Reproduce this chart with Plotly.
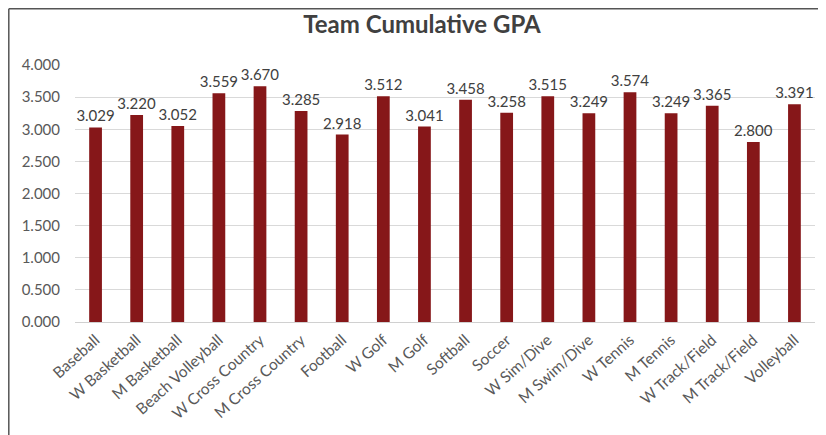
import plotly.graph_objects as go

teams = ["Baseball", "W Basketball", "M Basketball", "Beach Volleyball", "W Cross Country",
         "M Cross Country", "Football", "W Golf", "M Golf", "Softball", "Soccer",
         "W Sim/Dive", "M Swim/Dive", "W Tennis", "M Tennis", "W Track/Field",
         "M Track/Field", "Volleyball"]
gpa = [3.029, 3.220, 3.052, 3.559, 3.670, 3.285, 2.918, 3.512, 3.041, 3.458, 3.258,
       3.515, 3.249, 3.574, 3.249, 3.365, 2.800, 3.391]
ytick_vals = [0.0, 0.5, 1.0, 1.5, 2.0, 2.5, 3.0, 3.5, 4.0]

W, H = 818, 427
L, R, T, B = 67, 11, 57, 113
pw, ph = W - L - R, H - T - B

fig = go.Figure(go.Bar(
    x=teams, y=gpa,
    marker=dict(color="#861719", line=dict(width=0)),
    text=[f"{v:.3f}" for v in gpa],
    textposition="outside",
    constraintext="none",
    textfont=dict(family="Lato", size=15, color="#404040"),
    cliponaxis=False,
    width=0.31,
))

bx = (0.8 - L) / pw
ty = 1 + (T - 0.8) / ph
fig.add_shape(type="line", xref="paper", yref="paper", x0=bx, x1=bx, y0=-2, y1=ty,
              line=dict(color="#555555", width=1.5))
fig.add_shape(type="line", xref="paper", yref="paper", x0=bx, x1=1.2, y0=ty, y1=ty,
              line=dict(color="#555555", width=1.5))

fig.update_layout(
    width=W, height=H,
    margin=dict(l=L, r=R, t=T, b=B),
    paper_bgcolor="white", plot_bgcolor="white",
    title=dict(text="<b>Team Cumulative GPA</b>", x=414 / W, xanchor="center",
               y=1 - 17 / H, yanchor="middle",
               font=dict(family="Lato", size=24, color="#404040")),
    showlegend=False,
    xaxis=dict(tickangle=-42, tickfont=dict(family="Lato", size=15.5, color="#595959"),
               showgrid=False, showline=True, linecolor="#d0d0d0", ticks="",
               ticklabelstandoff=2),
    yaxis=dict(range=[0, 4], tickvals=ytick_vals, tickformat=".3f",
               tickfont=dict(family="Lato", size=15, color="#595959"),
               showgrid=True, gridcolor="#d9d9d9", gridwidth=1,
               zeroline=False, showline=False, ticks="", ticklabelstandoff=14),
)

fig.write_html("out.html")
